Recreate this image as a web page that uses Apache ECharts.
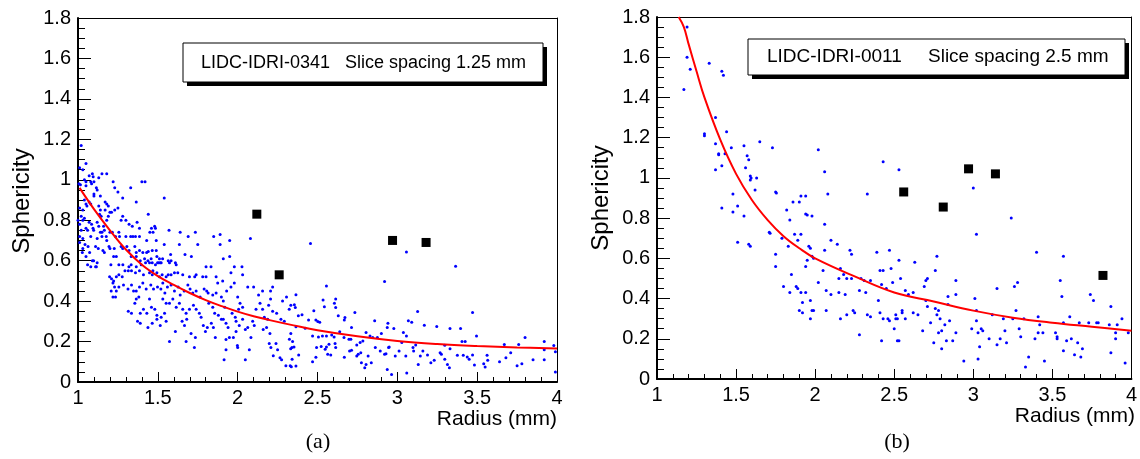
<!DOCTYPE html>
<html>
<head>
<meta charset="utf-8">
<script src="https://cdn.jsdelivr.net/npm/echarts@6.0.0/dist/echarts.min.js"></script>
<style>
html,body{margin:0;padding:0;background:#fff;}
#chart{width:1140px;height:459px;}
</style>
</head>
<body>
<div id="chart"></div>
<script>
// ---------- DATA ----------
const panelLabelsA = ['LIDC-IDRI-0341', 'Slice spacing 1.25 mm'];
const panelLabelsB = ['LIDC-IDRI-0011', 'Slice spacing 2.5 mm'];
const captions = ['(a)', '(b)'];
const xTitle = 'Radius (mm)';
const yTitle = 'Sphericity';

const pointsA = [
[1.02,1.17],[1.05,1.08],[1.01,1.06],[1.03,1.05],[1.07,1.02],[1.09,1.03],[1.095,1.015],[1.15,1.03],[1.18,1.03],[1.13,1.01],
[1.04,1.00],[1.05,0.99],[1.08,0.99],[1.10,0.99],[1.006,0.98],[1.015,0.975],[1.05,0.97],[1.085,0.98],[1.22,0.99],[1.23,0.96],
[1.25,0.94],[1.33,0.96],[1.40,0.99],[1.42,0.99],[1.115,0.96],[1.12,0.95],[1.10,0.93],[1.10,0.92],[1.28,0.91],[1.14,0.92],
[1.17,0.89],[1.365,0.89],[1.54,0.91],[1.04,0.90],[1.07,0.89],[1.05,0.88],[1.056,0.87],[1.08,0.88],[1.13,0.87],[1.14,0.85],
[1.18,0.88],[1.19,0.87],[1.25,0.86],[1.17,0.85],[1.20,0.84],[1.21,0.84],[1.23,0.85],[1.01,0.86],[1.03,0.85],[1.02,0.82],
[1.04,0.81],[1.00,0.80],[1.03,0.80],[1.44,0.83],[1.135,0.83],[1.145,0.82],[1.19,0.82],[1.18,0.80],[1.28,0.82],[1.27,0.80],
[1.30,0.80],[1.07,0.79],[1.085,0.78],[1.12,0.79],[1.13,0.77],[1.16,0.77],[1.165,0.75],[1.32,0.78],[1.34,0.77],[1.37,0.79],
[1.46,0.76],[1.48,0.77],[1.485,0.76],[1.45,0.74],[1.47,0.74],[1.57,0.75],[1.64,0.74],[1.735,0.74],[1.385,0.76],[1.05,0.76],
[1.06,0.75],[1.094,0.76],[1.098,0.75],[1.14,0.74],[1.15,0.74],[1.20,0.74],[1.215,0.74],[1.256,0.74],[1.01,0.72],[1.03,0.71],
[1.08,0.72],[1.12,0.71],[1.15,0.72],[1.177,0.72],[1.18,0.70],[1.235,0.72],[1.26,0.72],[1.30,0.72],[1.33,0.72],[1.344,0.72],
[1.36,0.72],[1.385,0.72],[1.43,0.70],[1.49,0.70],[1.54,0.68],[1.635,0.68],[1.69,0.72],[1.75,0.68],[1.85,0.72],[1.89,0.73],
[1.95,0.70],[2.08,0.71],[1.89,0.68],[1.91,0.61],[1.95,0.62],[1.71,0.62],[1.67,0.63],[1.58,0.63],[1.044,0.68],[1.063,0.67],
[1.11,0.67],[1.127,0.66],[1.156,0.65],[1.165,0.64],[1.194,0.67],[1.20,0.66],[1.227,0.66],[1.27,0.67],[1.28,0.66],[1.306,0.67],
[1.32,0.65],[1.356,0.67],[1.365,0.64],[1.385,0.65],[1.406,0.64],[1.43,0.64],[1.44,0.645],[1.465,0.65],[1.49,0.65],[1.494,0.62],
[1.51,0.61],[1.53,0.61],[1.333,0.62],[1.365,0.62],[1.073,0.64],[1.098,0.60],[1.027,0.64],[1.223,0.62],[1.24,0.62],[1.39,0.60],
[1.417,0.61],[1.438,0.60],[1.465,0.59],[1.498,0.59],[1.515,0.59],[1.565,0.60],[1.583,0.60],[1.61,0.59],[1.458,0.61],
[1.01,0.78],[1.02,0.75],[1.01,0.69],[1.03,0.66],[1.05,0.62],[1.06,0.58],[1.08,0.57],[1.11,0.57],[1.12,0.59],
[1.09,0.60],[1.115,0.57],[1.206,0.58],[1.256,0.58],[1.281,0.58],[1.319,0.57],[1.333,0.58],[1.365,0.57],[1.396,0.58],[1.423,0.59],
[1.448,0.59],[1.485,0.58],[1.506,0.59],[1.521,0.59],[1.573,0.59],[1.615,0.58],[1.802,0.57],[1.833,0.57],[1.979,0.57],[2.027,0.57],
[1.958,0.54],[2.031,0.53],[1.198,0.52],[1.21,0.51],[1.223,0.50],[1.24,0.52],[1.256,0.53],[1.277,0.52],[1.294,0.55],[1.315,0.55],
[1.335,0.55],[1.36,0.54],[1.385,0.55],[1.41,0.53],[1.448,0.54],[1.465,0.53],[1.469,0.55],[1.494,0.54],[1.51,0.52],[1.527,0.53],
[1.552,0.52],[1.565,0.53],[1.583,0.53],[1.604,0.54],[1.625,0.54],[1.656,0.53],[1.698,0.52],[1.731,0.52],[1.74,0.53],[1.781,0.52],
[1.802,0.52],[1.865,0.52],[1.875,0.49],[1.906,0.50],[1.219,0.49],[1.229,0.47],[1.24,0.45],[1.256,0.47],[1.285,0.48],[1.313,0.46],
[1.335,0.48],[1.348,0.45],[1.365,0.45],[1.385,0.47],[1.406,0.49],[1.427,0.46],[1.456,0.48],[1.473,0.46],[1.498,0.47],[1.519,0.46],
[1.531,0.49],[1.544,0.44],[1.56,0.47],[1.583,0.48],[1.604,0.45],[1.627,0.47],[1.64,0.43],[1.665,0.45],[1.688,0.48],[1.702,0.46],
[1.719,0.44],[1.74,0.45],[1.765,0.42],[1.79,0.46],[1.806,0.45],[1.815,0.44],[1.844,0.43],[1.865,0.44],[1.898,0.42],[1.91,0.40],
[1.931,0.45],[1.958,0.47],[1.979,0.49],[2.00,0.42],[2.015,0.39],[2.031,0.37],[2.063,0.47],[2.10,0.47],[2.156,0.45],[2.206,0.45],
[2.219,0.47],[1.208,0.45],[1.219,0.42],[1.235,0.42],[1.315,0.35],[1.335,0.34],[1.356,0.39],[1.365,0.41],[1.381,0.42],[1.39,0.34],
[1.41,0.36],[1.431,0.34],[1.373,0.30],[1.39,0.29],[1.438,0.27],[1.448,0.41],[1.46,0.37],[1.481,0.36],[1.494,0.33],[1.521,0.32],
[1.542,0.34],[1.465,0.29],[1.494,0.31],[1.515,0.28],[1.552,0.30],[1.573,0.20],[1.61,0.25],[1.531,0.41],[1.552,0.39],[1.573,0.39],
[1.594,0.41],[1.615,0.37],[1.635,0.39],[1.656,0.36],[1.677,0.34],[1.698,0.36],[1.652,0.30],[1.667,0.28],[1.681,0.31],[1.677,0.20],
[1.708,0.24],[1.735,0.22],[1.729,0.17],[1.723,0.38],[1.74,0.36],[1.76,0.34],[1.771,0.32],[1.785,0.28],[1.798,0.25],[1.81,0.27],
[1.819,0.39],[1.844,0.37],[1.856,0.34],[1.835,0.29],[1.848,0.27],[1.86,0.22],[1.879,0.33],[1.898,0.31],[1.919,0.37],[1.91,0.31],
[1.927,0.29],[1.94,0.27],[1.927,0.21],[1.927,0.16],[1.915,0.11],[1.948,0.22],[1.973,0.22],[1.99,0.25],[1.965,0.34],[1.985,0.32],
[2.006,0.36],[1.99,0.30],[2.01,0.28],[2.031,0.31],[1.998,0.18],[2.00,0.17],[2.048,0.26],[2.063,0.27],[2.083,0.22],[2.048,0.11],
[2.073,0.16],[2.094,0.30],[2.104,0.28],[2.115,0.36],[2.131,0.43],[2.14,0.39],[2.156,0.36],[2.167,0.32],[2.188,0.31],[2.194,0.38],
[2.206,0.41],[2.219,0.35],[2.16,0.26],[2.181,0.27],[2.202,0.24],[2.198,0.19],[2.208,0.17],[2.223,0.13],[2.24,0.19],[2.25,0.16],
[2.265,0.12],[2.275,0.11],[2.281,0.40],[2.244,0.34],[2.271,0.31],[2.292,0.30],[2.306,0.42],[2.323,0.36],[2.333,0.38],[2.333,0.24],
[2.344,0.20],[2.34,0.17],[2.302,0.08],[2.329,0.08],
[2.456,0.685],[3.057,0.643],[2.92,0.497],[3.365,0.573],[2.365,0.432],[2.355,0.382],[2.361,0.369],[2.556,0.475],[2.535,0.405],[2.543,0.372],
[2.614,0.411],[2.606,0.389],[2.614,0.369],[2.38,0.328],[2.403,0.333],[2.477,0.352],[2.444,0.306],[2.49,0.306],[2.502,0.299],[2.514,0.295],
[2.63,0.328],[2.668,0.306],[2.672,0.319],[2.734,0.344],[2.713,0.27],[2.365,0.273],[2.423,0.266],[2.469,0.228],[2.506,0.223],[2.531,0.228],
[2.556,0.228],[2.589,0.233],[2.604,0.223],[2.639,0.248],[2.666,0.22],[2.697,0.212],[2.709,0.212],[2.746,0.183],[2.767,0.195],[2.784,0.203],
[2.804,0.245],[2.829,0.228],[2.846,0.22],[2.858,0.303],[2.875,0.22],[2.90,0.24],[2.941,0.29],[2.937,0.27],[2.978,0.264],[2.332,0.165],
[2.353,0.173],[2.324,0.211],[2.382,0.133],[2.341,0.112],[2.365,0.079],[2.336,0.075],[2.469,0.10],[2.49,0.123],[2.494,0.17],[2.523,0.175],
[2.548,0.162],[2.556,0.173],[2.572,0.187],[2.564,0.137],[2.583,0.133],[2.614,0.17],[2.61,0.19],[2.668,0.123],[2.701,0.153],[2.713,0.157],
[2.746,0.128],[2.755,0.137],[2.771,0.145],[2.775,0.095],[2.796,0.07],[2.804,0.087],[2.817,0.128],[2.837,0.095],[2.862,0.17],[2.893,0.153],
[2.92,0.137],[2.929,0.14],[2.945,0.17],[2.949,0.173],[2.937,0.062],[2.964,0.037],[2.987,0.128],[3.011,0.153],[3.028,0.195],[3.038,0.245],
[3.057,0.228],[3.053,0.128],[3.059,0.045],[3.069,0.303],[3.09,0.295],[3.098,0.17],[3.102,0.153],[3.115,0.183],[3.131,0.087],[3.127,0.349],
[3.144,0.128],[3.16,0.153],[3.169,0.281],[3.189,0.133],[3.21,0.095],[3.231,0.107],[3.247,0.274],[3.268,0.145],[3.276,0.137],[3.297,0.182],
[3.297,0.112],[3.314,0.087],[3.326,0.07],[3.33,0.265],[3.33,0.165],[3.376,0.132],[3.396,0.265],[3.405,0.20],[3.425,0.20],[3.413,0.132],
[3.438,0.124],[3.45,0.112],[3.471,0.344],[3.471,0.133],[3.483,0.084],[3.496,0.228],[3.541,0.09],[3.55,0.074],[3.562,0.132],[3.566,0.107],
[3.76,0.185],[3.80,0.22],[3.92,0.20],[3.92,0.16],[3.98,0.18],[3.99,0.05],[3.99,0.15],[3.92,0.11],[3.85,0.11],[3.78,0.09],
[3.75,0.08],[3.67,0.185],[3.71,0.145],[3.64,0.10],[3.68,0.12]
];
const markedA = [[2.12,0.83],[2.26,0.53],[2.97,0.70],[3.18,0.69]];
const fitA = [[1.01,0.96],[1.1,0.855],[1.2,0.75],[1.3,0.655],[1.4,0.58],[1.5,0.524],[1.6,0.48],[1.7,0.44],[1.8,0.405],[1.9,0.375],
[2.0,0.348],[2.1,0.325],[2.2,0.306],[2.35,0.28],[2.5,0.256],[2.75,0.226],[3.0,0.203],[3.25,0.188],[3.5,0.178],[3.75,0.171],[4.0,0.166]];

const pointsB = [
[1.19,1.75],[1.19,1.60],[1.21,1.54],[1.17,1.44],[1.33,1.57],[1.41,1.53],[1.42,1.51],[1.37,1.30],[1.30,1.22],[1.30,1.21],
[1.37,1.17],[1.44,1.23],[1.39,1.12],[1.39,1.115],[1.37,1.04],[1.41,1.06],[1.43,1.12],[1.47,1.15],[1.55,1.16],[1.57,1.11],
[1.58,1.09],[1.56,1.05],[1.59,1.01],[1.595,1.00],[1.59,0.99],[1.63,1.00],[1.62,0.94],[1.48,0.92],[1.51,0.86],[1.41,0.85],
[1.48,0.83],[1.55,0.81],[1.51,0.68],[1.58,0.67],[1.59,0.66],[1.65,1.18],[1.73,1.15],[1.75,0.93],[1.755,0.925],[1.71,0.73],
[1.715,0.725],[1.75,0.62],[1.75,0.56],[1.82,0.84],[1.84,0.79],[1.79,0.70],[1.83,0.66],[1.80,0.46],[1.84,0.43],[1.85,0.52],
[1.86,0.88],[1.90,0.88],[1.91,0.91],[1.94,0.91],[1.87,0.72],[1.89,0.69],[1.91,0.72],[1.88,0.46],[1.89,0.45],[1.91,0.43],
[1.92,0.38],[1.90,0.34],[1.92,0.33],[1.97,0.30],[1.98,0.34],[1.99,0.34],[1.94,0.82],[1.95,0.815],[1.98,0.81],[1.96,0.66],
[1.97,0.65],[1.98,0.61],[1.99,0.60],[1.95,0.59],[1.94,0.56],[1.97,0.39],[1.94,0.43],[2.02,1.14],[2.06,1.03],[2.06,0.77],
[2.08,0.92],[2.06,0.64],[2.05,0.54],[2.02,0.48],[2.07,0.44],[2.10,0.42],[2.07,0.34],[2.10,0.69],[2.14,0.67],[2.15,0.50],
[2.15,0.43],[2.16,0.55],[2.16,0.30],[2.18,0.52],[2.19,0.42],[2.20,0.50],[2.20,0.32],[2.22,0.64],[2.23,0.62],[2.23,0.50],
[2.24,0.34],[2.25,0.33],[2.28,0.44],[2.28,0.22],[2.29,0.50],[2.31,0.49],[2.32,0.43],[2.33,0.32],[2.35,0.31],[2.33,0.92],
[2.35,0.49],[2.39,0.63],[2.40,0.39],[2.41,0.54],[2.42,0.47],[2.41,0.33],[2.43,1.08],[2.43,0.54],[2.43,0.30],[2.42,0.19],
[2.45,0.45],[2.46,0.30],[2.47,0.29],[2.47,0.64],[2.48,0.55],[2.49,0.48],[2.50,0.25],[2.51,0.32],[2.51,0.30],[2.52,0.30],
[2.52,0.19],[2.53,0.19],[2.53,1.04],[2.53,0.59],[2.54,0.50],[2.55,0.34],[2.55,0.33],[2.57,0.30],[2.57,0.44],[2.59,0.42],
[2.62,0.43],[2.62,0.33],[2.63,0.58],[2.65,0.32],[2.68,0.24],[2.69,0.46],[2.70,0.49],[2.71,0.50],[2.70,0.39],[2.71,0.36],
[2.73,0.28],[2.75,0.18],[2.76,0.35],[2.76,0.54],[2.77,0.32],[2.77,0.61],[2.78,0.23],[2.78,0.34],[2.79,0.30],[2.80,0.15],
[2.80,0.24],[2.82,0.27],[2.83,0.19],[2.84,0.41],[2.84,0.37],[2.85,0.29],[2.87,0.19],[2.89,0.42],[2.89,0.49],[2.89,0.23],
[2.94,0.09],[2.99,0.25],[3.00,0.95],[3.01,0.40],[3.02,0.34],[3.02,0.72],[3.02,0.29],[3.03,0.23],[3.03,0.10],[3.04,0.16],
[3.05,0.25],[3.06,0.24],[3.10,0.20],[3.12,0.32],[3.15,0.45],[3.15,0.17],[3.17,0.20],[3.19,0.30],[3.20,0.24],[3.21,0.18],
[3.24,0.80],[3.25,0.30],[3.26,0.46],[3.27,0.34],[3.28,0.48],[3.29,0.25],[3.30,0.21],[3.32,0.30],[3.33,0.06],[3.35,0.11],
[3.40,0.63],[3.41,0.31],[3.42,0.27],[3.41,0.23],[3.44,0.23],[3.45,0.09],[3.39,0.20],[3.52,0.23],[3.53,0.21],[3.53,0.20],
[3.55,0.49],[3.57,0.61],[3.56,0.41],[3.57,0.28],[3.57,0.14],[3.59,0.19],[3.61,0.31],[3.62,0.20],[3.64,0.12],[3.66,0.18],
[3.68,0.11],[3.69,0.15],[3.67,0.28],[3.73,0.28],[3.74,0.42],[3.76,0.39],[3.78,0.28],[3.79,0.28],[3.87,0.13],[3.87,0.36],
[3.90,0.23],[3.90,0.20],[3.91,0.27],[3.94,0.30],[3.96,0.08],[3.98,0.23],[3.86,0.27]
];
const markedB = [[2.56,0.93],[2.81,0.855],[2.97,1.045],[3.14,1.02],[3.82,0.515]];
const fitB = [[1.137,1.80],[1.17,1.75],[1.2,1.665],[1.25,1.53],[1.3,1.40],[1.4,1.19],[1.5,1.02],[1.6,0.89],[1.7,0.79],[1.8,0.71],
[1.9,0.65],[2.0,0.60],[2.25,0.51],[2.5,0.43],[2.75,0.385],[3.0,0.34],[3.25,0.305],[3.5,0.28],[3.75,0.26],[4.0,0.24]];

// ---------- CHART ----------
const SANS = "'Liberation Sans', Arial, Helvetica, sans-serif";
const SERIF = "'Liberation Serif', 'Times New Roman', serif";

function xAxisCfg(gi) {
  return {
    type: 'value', gridIndex: gi, position: 'bottom', min: 1, max: 4, interval: 0.5,
    axisLine: { show: true, onZero: false, lineStyle: { color: '#000', width: 2 } },
    axisTick: { show: true, inside: true, length: 10, lineStyle: { color: '#000', width: 1 } },
    minorTick: { show: true, splitNumber: 5, length: 5, lineStyle: { color: '#000', width: 1 } },
    axisLabel: { show: true, color: '#000', fontSize: 20, fontFamily: SANS, margin: 6, showMinLabel: true, showMaxLabel: true },
    splitLine: { show: false }, minorSplitLine: { show: false }
  };
}
function yAxisCfg(gi) {
  return {
    type: 'value', gridIndex: gi, position: 'left', min: 0, max: 1.8, interval: 0.2,
    axisLine: { show: true, onZero: false, lineStyle: { color: '#000', width: 2 } },
    axisTick: { show: true, inside: true, length: 13, lineStyle: { color: '#000', width: 1 } },
    minorTick: { show: true, splitNumber: 4, length: 7, lineStyle: { color: '#000', width: 1 } },
    axisLabel: { show: true, color: '#000', fontSize: 20, fontFamily: SANS, margin: 7, showMinLabel: true, showMaxLabel: true },
    splitLine: { show: false }, minorSplitLine: { show: false }
  };
}
// frame axes (top / right): plain lines, no ticks or labels
function frameX(gi) {
  return { type: 'value', gridIndex: gi, position: 'top', min: 1, max: 4,
    axisLine: { show: true, onZero: false, lineStyle: { color: '#000', width: 1 } },
    axisTick: { show: false }, axisLabel: { show: false }, splitLine: { show: false } };
}
function frameY(gi) {
  return { type: 'value', gridIndex: gi, position: 'right', min: 0, max: 1.8,
    axisLine: { show: true, onZero: false, lineStyle: { color: '#000', width: 1 } },
    axisTick: { show: false }, axisLabel: { show: false }, splitLine: { show: false } };
}
function panelSeries(idx, pts, marks, fit) {
  return [
    { type: 'scatter', xAxisIndex: idx, yAxisIndex: idx, data: pts, symbol: 'circle', symbolSize: 3,
      itemStyle: { color: '#0000ff', opacity: 1 }, z: 2, silent: true },
    { type: 'line', xAxisIndex: idx, yAxisIndex: idx, data: fit, smooth: 0.4, showSymbol: false, symbol: 'none',
      lineStyle: { color: '#ff0000', width: 2 }, z: 3, silent: true },
    { type: 'scatter', xAxisIndex: idx, yAxisIndex: idx, data: marks, symbol: 'rect', symbolSize: 9,
      itemStyle: { color: '#000000', opacity: 1 }, z: 4, silent: true }
  ];
}
function textEl(x, y, text, size, family, align, rot) {
  return { type: 'text', x: x, y: y, rotation: rot || 0, z: 10,
    style: { text: text, fill: '#000', font: size + 'px ' + family, align: align || 'left', verticalAlign: 'middle' } };
}

const chart = echarts.init(document.getElementById('chart'), null, { renderer: 'canvas' });
chart.setOption({
  animation: false,
  backgroundColor: '#fff',
  grid: [
    { left: 78, top: 18, width: 479, height: 364, show: false },
    { left: 657, top: 17, width: 476, height: 362, show: false }
  ],
  xAxis: [xAxisCfg(0), xAxisCfg(1), frameX(0), frameX(1)],
  yAxis: [yAxisCfg(0), yAxisCfg(1), frameY(0), frameY(1)],
  series: [].concat(panelSeries(0, pointsA, markedA, fitA), panelSeries(1, pointsB, markedB, fitB)),
  graphic: { elements: [
    { type: 'rect', shape: { x: 187, y: 47, width: 360, height: 39 }, style: { fill: '#000' }, z: 8 },
    { type: 'rect', shape: { x: 183, y: 43, width: 360, height: 39 }, style: { fill: '#fff', stroke: '#000', lineWidth: 1 }, z: 9 },
    textEl(201, 63, panelLabelsA[0], 18, SANS),
    textEl(345, 63, panelLabelsA[1], 18, SANS),
    { type: 'rect', shape: { x: 752, y: 43, width: 377, height: 36 }, style: { fill: '#000' }, z: 8 },
    { type: 'rect', shape: { x: 748, y: 39, width: 377, height: 36 }, style: { fill: '#fff', stroke: '#000', lineWidth: 1 }, z: 9 },
    textEl(767, 57, panelLabelsB[0], 19, SANS),
    textEl(928, 57, panelLabelsB[1], 19, SANS),
    textEl(557, 419, xTitle, 21, SANS, 'right'),
    textEl(1135, 416, xTitle, 21, SANS, 'right'),
    textEl(22, 201, yTitle, 24, SANS, 'center', Math.PI / 2),
    textEl(601, 198, yTitle, 24, SANS, 'center', Math.PI / 2),
    textEl(318, 442, captions[0], 22, SERIF, 'center'),
    textEl(897, 442, captions[1], 22, SERIF, 'center')
  ] }
});
</script>
</body>
</html>
